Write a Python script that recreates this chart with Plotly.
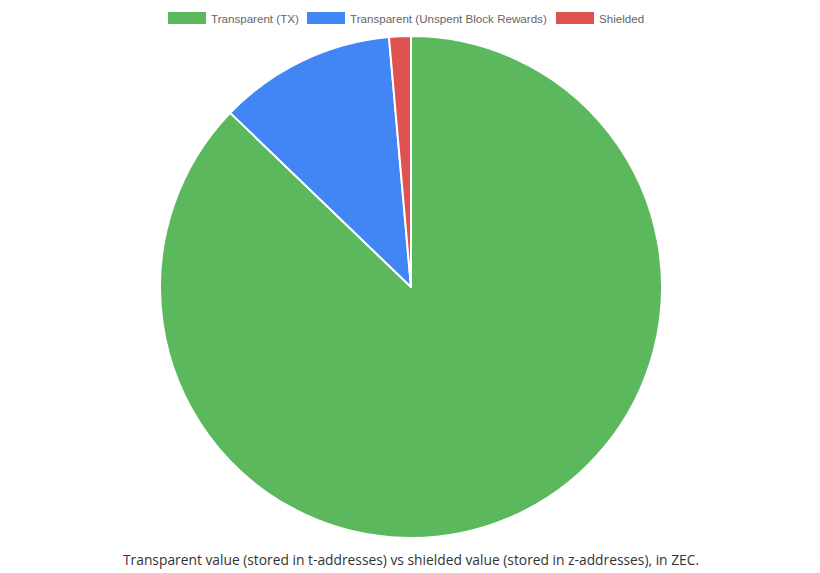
import plotly.graph_objects as go

labels = ["Transparent (TX)", "Transparent (Unspent Block Rewards)", "Shielded"]
values = [87.2, 11.4, 1.4]
colors = ["#5CB85C", "#4285F4", "#DE5350"]
caption = "Transparent value (stored in t-addresses) vs shielded value (stored in z-addresses), in ZEC."

W, H = 820, 573

fig = go.Figure(go.Pie(
    labels=labels, values=values, sort=False, direction="clockwise", rotation=0,
    marker=dict(colors=colors, line=dict(color="white", width=2)),
    textinfo="none", hoverinfo="label+value", showlegend=False,
    domain=dict(x=[160 / W, 662 / W], y=[1 - 538 / H, 1 - 36 / H]),
))

# custom legend (wide boxes like the original)
box_x = [168, 307, 556]
shapes, annotations = [], []
for bx, lab, col in zip(box_x, labels, colors):
    shapes.append(dict(type="rect", xref="paper", yref="paper",
                       x0=bx / W, x1=(bx + 38) / W, y0=1 - 24 / H, y1=1 - 12 / H,
                       fillcolor=col, line=dict(width=0)))
    annotations.append(dict(text=lab, xref="paper", yref="paper", x=(bx + 41) / W, y=1 - 18 / H,
                            xanchor="left", yanchor="middle", showarrow=False,
                            font=dict(family="Liberation Sans, Arial", size=11.6, color="#666666")))

annotations.append(dict(text=caption, xref="paper", yref="paper", x=411 / W, y=1 - 559 / H,
                        xanchor="center", yanchor="middle", showarrow=False,
                        font=dict(family="Open Sans, Noto Sans", size=13.8, color="#333333")))

fig.update_layout(width=W, height=H, margin=dict(l=0, r=0, t=0, b=0),
                  paper_bgcolor="white", plot_bgcolor="white",
                  shapes=shapes, annotations=annotations)
fig.write_html("out.html", config={"displayModeBar": False},
               post_script="document.body.style.margin='0';document.body.style.overflow='hidden';")
